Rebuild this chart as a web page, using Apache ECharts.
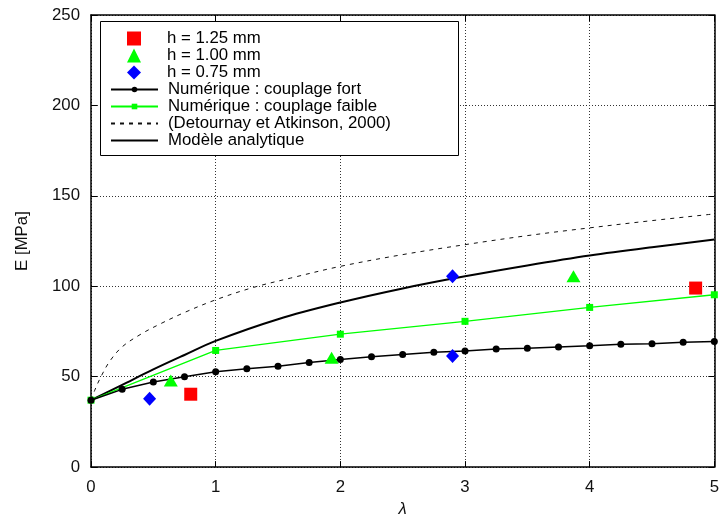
<!DOCTYPE html>
<html>
<head>
<meta charset="utf-8">
<script src="https://cdn.jsdelivr.net/npm/echarts@6/dist/echarts.min.js"></script>
<style>html,body{margin:0;padding:0;background:#fff}#c{width:722px;height:523px}</style>
</head>
<body>
<div id="c"></div>
<script>
// ---- data ----
const xTicks = [0, 1, 2, 3, 4, 5];
const yTicks = [0, 50, 100, 150, 200, 250];

const h125 = [[0.80, 40.3], [4.85, 99.0]];
const h100 = [[0.64, 47.9], [1.93, 60.4], [3.87, 105.6]];
const h075 = [[0.47, 37.8], [2.90, 105.5], [2.90, 61.5]];

const fortX = [0, 0.25, 0.5, 0.75, 1, 1.25, 1.5, 1.75, 2, 2.25, 2.5, 2.75, 3, 3.25, 3.5, 3.75, 4, 4.25, 4.5, 4.75, 5];
const fortY = [37, 43.0, 47.0, 50.0, 52.7, 54.4, 55.8, 57.9, 59.5, 61.0, 62.2, 63.5, 64.2, 65.3, 65.7, 66.4, 67.1, 68.0, 68.2, 69.0, 69.4];

const faibleX = [0, 1, 2, 3, 4, 5];
const faibleY = [37, 64.5, 73.5, 80.6, 88.3, 95.3];

const detX = [0, 0.03, 0.08, 0.15, 0.25, 0.4, 0.55, 0.75, 1, 1.3, 1.6, 2, 2.5, 3, 3.5, 4, 4.5, 5];
const detY = [37, 42.5, 50, 58.5, 66.5, 73.5, 79.0, 85.5, 92.5, 99.3, 104.5, 111, 117.5, 123, 128, 132.3, 136.3, 140];

const anaX = [0, 0.25, 0.5, 0.75, 1, 1.5, 2, 2.5, 3, 3.5, 4, 4.5, 5];
const anaY = [37, 45.5, 54, 62, 69.8, 81.8, 91, 98.8, 105.5, 111.5, 117, 121.6, 125.8];

const names = ['h = 1.25 mm', 'h = 1.00 mm', 'h = 0.75 mm',
  'Numérique : couplage fort', 'Numérique : couplage faible',
  '(Detournay et Atkinson, 2000)', 'Modèle analytique'];

const zip = (xs, ys) => xs.map((x, i) => [x, ys[i]]);
const FONT = '"Liberation Sans", Arial, sans-serif';
const FS = 16.8;

const chart = echarts.init(document.getElementById('c'), null, {renderer: 'canvas'});

const baseX = {
  type: 'value', min: xTicks[0], max: xTicks[xTicks.length - 1], interval: 1
};
const baseY = {
  type: 'value', min: yTicks[0], max: yTicks[yTicks.length - 1], interval: 50
};
const axLine = {show: true, onZero: false, lineStyle: {color: '#000', width: 1.5}};
const axTick = {show: true, inside: true, length: 6, lineStyle: {color: '#000', width: 1}};

chart.setOption({
  animation: false,
  backgroundColor: '#fff',
  textStyle: {fontFamily: FONT},
  grid: {left: 91, right: 6, top: 15, bottom: 54, containLabel: false},
  xAxis: [
    Object.assign({}, baseX, {
      position: 'bottom',
      name: 'λ', nameLocation: 'middle', nameGap: 31,
      nameTextStyle: {fontFamily: FONT, fontSize: FS, fontStyle: 'italic', color: '#111'},
      axisLine: axLine, axisTick: axTick,
      axisLabel: {fontFamily: FONT, fontSize: FS, color: '#111', margin: 12},
      splitLine: {show: true, lineStyle: {type: [1, 2], color: '#333', width: 1}}
    }),
    Object.assign({}, baseX, {
      position: 'top',
      axisLine: axLine, axisTick: axTick,
      axisLabel: {show: false}, splitLine: {show: false}
    })
  ],
  yAxis: [
    Object.assign({}, baseY, {
      position: 'left',
      name: 'E [MPa]', nameLocation: 'middle', nameGap: 60, nameRotate: 90,
      nameTextStyle: {fontFamily: FONT, fontSize: FS, color: '#111'},
      axisLine: axLine, axisTick: axTick,
      axisLabel: {fontFamily: FONT, fontSize: FS, color: '#111', margin: 11},
      splitLine: {show: true, lineStyle: {type: [1, 2], color: '#333', width: 1}}
    }),
    Object.assign({}, baseY, {
      position: 'right',
      axisLine: axLine, axisTick: axTick,
      axisLabel: {show: false}, splitLine: {show: false}
    })
  ],
  graphic: [{
    type: 'rect', z: 50,
    shape: {x: 100.5, y: 21.5, width: 358, height: 134},
    style: {fill: '#fff', stroke: '#000', lineWidth: 1}
  }],
  legend: [
    {
      z: 60, orient: 'vertical', left: 127, top: 30, padding: 0,
      itemWidth: 14, itemHeight: 14, itemGap: 0, symbolKeepAspect: true,
      data: names.slice(0, 3),
      textStyle: {fontFamily: FONT, fontSize: FS, color: '#000', lineHeight: 17, padding: [0, 0, 0, 21]}
    },
    {
      z: 60, orient: 'vertical', left: 110, top: 81, padding: 0,
      itemWidth: 47, itemHeight: 7, itemGap: 0,
      data: [names[3], names[4],
        {name: names[5], itemStyle: {opacity: 0}},
        {name: names[6], itemStyle: {opacity: 0}}],
      textStyle: {fontFamily: FONT, fontSize: FS, color: '#000', lineHeight: 17, padding: [0, 0, 0, 5]}
    }
  ],
  series: [
    {
      name: names[5], type: 'line', data: zip(detX, detY), symbol: 'none',
      smooth: 0.35, z: 2,
      lineStyle: {color: '#111', width: 1, type: [4, 5]}, itemStyle: {color: '#111'}
    },
    {
      name: names[6], type: 'line', data: zip(anaX, anaY), symbol: 'none',
      smooth: 0.35, z: 3,
      lineStyle: {color: '#000', width: 2}, itemStyle: {color: '#000'}
    },
    {
      name: names[4], type: 'line', data: zip(faibleX, faibleY),
      symbol: 'rect', symbolSize: 7, z: 4,
      lineStyle: {color: '#00ff00', width: 1.3}, itemStyle: {color: '#00ff00'}
    },
    {
      name: names[3], type: 'line', data: zip(fortX, fortY),
      symbol: 'circle', symbolSize: 7, z: 5,
      lineStyle: {color: '#000', width: 1.5}, itemStyle: {color: '#000'}
    },
    {
      name: names[0], type: 'scatter', data: h125, symbol: 'rect', symbolSize: 13, z: 6,
      itemStyle: {color: '#ff0000', opacity: 1}
    },
    {
      name: names[1], type: 'scatter', data: h100, symbol: 'triangle', symbolSize: [14, 12], z: 6,
      itemStyle: {color: '#00ff00', opacity: 1}
    },
    {
      name: names[2], type: 'scatter', data: h075, symbol: 'diamond', symbolSize: [13, 14], z: 6,
      itemStyle: {color: '#0000ff', opacity: 1}
    }
  ]
});
</script>
</body>
</html>
